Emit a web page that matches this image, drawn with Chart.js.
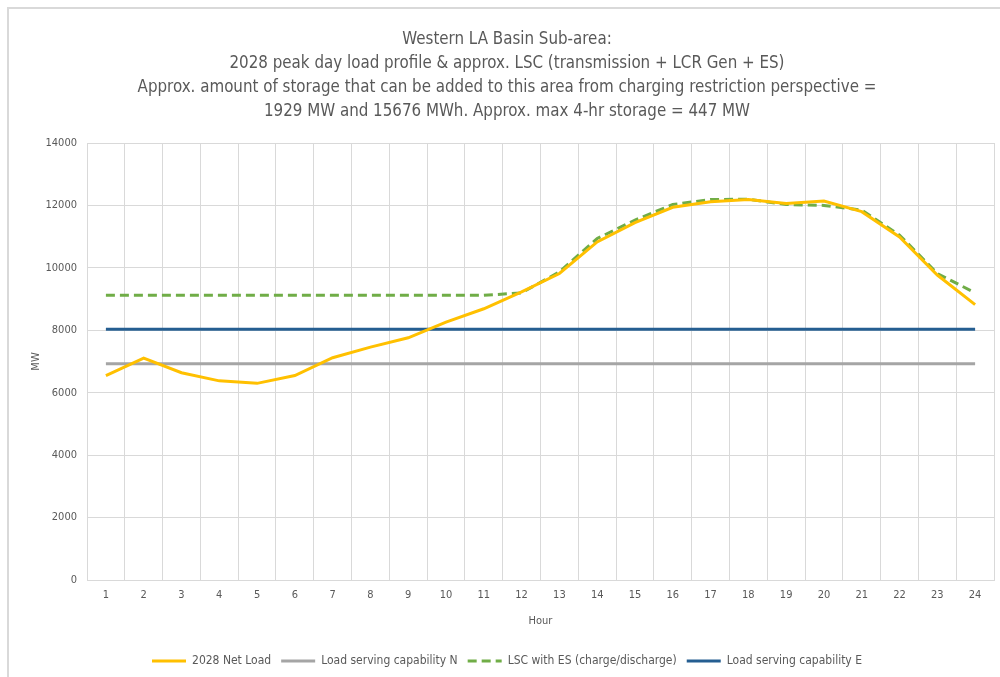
<!DOCTYPE html>
<html lang="en">
<head>
    <meta charset="UTF-8">
    <title>Western LA Basin Sub-area</title>
    <script src="https://cdn.jsdelivr.net/npm/chart.js"></script>
    <style>
        body { margin: 0; background: #fff; }
        #wrap { position: relative; width: 1000px; height: 677px; overflow: hidden; }
        #frame { position: absolute; left: 7px; top: 7px; width: 1010px; height: 700px; border: 2px solid #d9d9d9; box-sizing: border-box; }
        canvas { position: absolute; left: 0; top: 0; }
    </style>
</head>
<body>
<div id="wrap">
    <div id="frame"></div>
    <canvas id="chart" width="1000" height="677"></canvas>
</div>
<script>
    const hours = ["1","2","3","4","5","6","7","8","9","10","11","12","13","14","15","16","17","18","19","20","21","22","23","24"];

    const netLoad = [6550, 7110, 6640, 6380, 6300, 6550, 7120, 7460, 7760, 8260, 8690, 9230,
                     9820, 10830, 11450, 11940, 12120, 12190, 12060, 12140, 11800, 10990, 9770, 8820];
    const lscWithES = [9120, 9120, 9120, 9120, 9120, 9120, 9120, 9120, 9120, 9120, 9120, 9200,
                       9870, 10940, 11530, 12030, 12190, 12200, 12030, 12000, 11850, 11050, 9820, 9200];
    const capN = Array(24).fill(6930);
    const capE = Array(24).fill(8030);

    const titleLines = [
        "Western LA Basin Sub-area:",
        "2028 peak day load profile & approx. LSC (transmission + LCR Gen + ES)",
        "Approx. amount of storage that can be added to this area from charging restriction perspective =",
        "1929 MW and 15676 MWh. Approx. max 4-hr storage = 447 MW"
    ];

    const font = "'Liberation Sans Narrow', 'DejaVu Sans Condensed', sans-serif";
    const textColor = "#595959";
    const gridColor = "#d9d9d9";

    Chart.defaults.font.family = font;
    Chart.defaults.color = textColor;

    function line(label, data, color, dash) {
        return {
            label: label,
            data: data,
            borderColor: color,
            backgroundColor: color,
            borderWidth: 3,
            borderDash: dash || [],
            pointRadius: 0,
            pointHoverRadius: 0,
            tension: 0,
            fill: false
        };
    }

    new Chart(document.getElementById("chart"), {
        type: "line",
        data: {
            labels: hours,
            datasets: [
                line("2028 Net Load", netLoad, "#ffc000"),
                line("Load serving capability N", capN, "#a5a5a5"),
                line("LSC with ES (charge/discharge)", lscWithES, "#70ad47", [9, 5]),
                line("Load serving capability E", capE, "#255e91")
            ]
        },
        options: {
            responsive: false,
            animation: false,
            layout: { padding: { left: 20, right: 6, top: 0, bottom: 0 } },
            plugins: {
                title: {
                    display: true,
                    text: titleLines,
                    color: textColor,
                    font: { size: 16.8, weight: "normal", lineHeight: 24 / 16.8 },
                    padding: { top: 28, bottom: 19 }
                },
                legend: {
                    position: "bottom",
                    labels: {
                        usePointStyle: true,
                        pointStyle: "line",
                        pointStyleWidth: 34,
                        boxHeight: 3,
                        padding: 10,
                        color: textColor,
                        font: { size: 12 },
                        // legend swatches take the dataset stroke, dash included
                        generateLabels: chart => chart.data.datasets.map((ds, i) => ({
                            text: ds.label,
                            datasetIndex: i,
                            strokeStyle: ds.borderColor,
                            fillStyle: ds.borderColor,
                            fontColor: textColor,
                            lineWidth: ds.borderWidth,
                            lineDash: ds.borderDash,
                            lineCap: "butt",
                            pointStyle: "line",
                            hidden: false
                        }))
                    }
                },
                tooltip: { enabled: false }
            },
            scales: {
                x: {
                    offset: true,
                    grid: { offset: true, color: gridColor, drawTicks: false },
                    border: { color: gridColor },
                    ticks: { padding: 9, font: { size: 11 }, maxRotation: 0 },
                    title: { display: true, text: "Hour", font: { size: 11 }, padding: { top: 4, bottom: 17 } },
                    afterFit: s => { s.height = 65; }
                },
                y: {
                    min: 0,
                    max: 14000,
                    ticks: { stepSize: 2000, padding: 10, font: { size: 11 }, callback: v => String(v) },
                    grid: { color: gridColor, drawTicks: false },
                    border: { color: gridColor },
                    title: { display: true, text: "MW", font: { size: 11 }, padding: { top: 10, bottom: 0 } },
                    afterFit: s => { s.width = 67; }
                }
            }
        }
    });
</script>
</body>
</html>
